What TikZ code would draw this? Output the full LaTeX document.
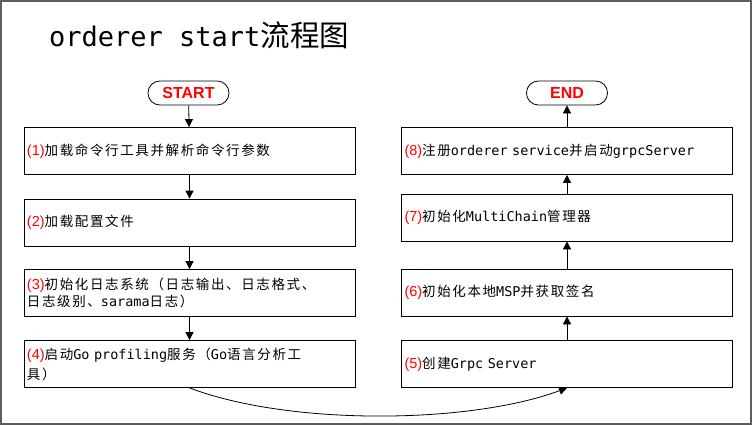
\documentclass[tikz,border=0pt]{standalone}
\usepackage{fontspec}
\setmainfont{DejaVu Sans Mono}
\newfontfamily\cjkf[LetterSpace=12]{Noto Sans CJK SC}
\newfontfamily\cjkt{Noto Sans CJK SC}
\newfontfamily\numf{Liberation Sans}
\usetikzlibrary{arrows.meta}
\newcommand\zh[1]{{\cjkf #1}}
\newcommand\nm[1]{{\numf\fontsize{14.5}{17}\selectfont\color{red}#1}}
\definecolor{framegray}{RGB}{95,95,95}
\begin{document}
\begin{tikzpicture}[x=1pt,y=-1pt,
  stepbox/.style={draw=black, line width=0.8pt, minimum width=331pt, minimum height=47pt,
    text width=325pt, align=left, inner sep=3pt, font=\fontsize{13.5}{17}\selectfont},
  term/.style={draw=black, line width=0.8pt, rounded corners=11.9pt, minimum width=81pt,
    minimum height=24pt, inner sep=0pt, text=red, font=\fontsize{16}{16}\selectfont\numf\bfseries},
  arr/.style={draw=black, line width=0.8pt, -{Triangle[length=8pt,width=8pt]}}]
\useasboundingbox (0,0) rectangle (756,426);
\draw[framegray, line width=1.6pt] (1,1) rectangle (751,424);
\node[anchor=base west, inner sep=0pt, font=\fontsize{27}{27}\selectfont] (title) at (49,46)
  {orderer start{\cjkt\fontsize{29.5}{29.5}\selectfont 流程图}};
% left column
\node[term] (start) at (188.5,93) {START};
\node[stepbox] (b1) at (189.5,151) {\nm{(1)}\zh{加载命令行工具并解析命令行参数}};
\node[stepbox] (b2) at (189.5,222.5) {\nm{(2)}\zh{加载配置文件}};
\node[stepbox] (b3) at (189.5,293) {\nm{(3)}\zh{初始化日志系统（日志输出、日志格式、}\\\zh{日志级别、}sarama\zh{日志）}};
\node[stepbox] (b4) at (189.5,364) {\nm{(4)}\zh{启动}Go profiling\zh{服务（}Go\zh{语言分析工}\\[3pt]\zh{具）}};
% right column
\node[term] (end) at (567,93) {END};
\node[stepbox] (b8) at (567,151) {\nm{(8)}\zh{注册}orderer service\zh{并启动}grpcServer};
\node[stepbox] (b7) at (567,217.5) {\nm{(7)}\zh{初始化}MultiChain\zh{管理器}};
\node[stepbox] (b6) at (567,292.5) {\nm{(6)}\zh{初始化本地}MSP\zh{并获取签名}};
\node[stepbox] (b5) at (567,364) {\nm{(5)}\zh{创建}Grpc Server};
% connectors
\draw[arr] (start) -- (b1);
\draw[arr] (b1) -- (b2);
\draw[arr] (b2) -- (b3);
\draw[arr] (b3) -- (b4);
\draw[arr] (b4.south) .. controls (290,426) and (470,424) .. (b5.south);
\draw[arr] (b5) -- (b6);
\draw[arr] (b6) -- (b7);
\draw[arr] (b7) -- (b8);
\draw[arr] (b8) -- (end);
\end{tikzpicture}
\end{document}
